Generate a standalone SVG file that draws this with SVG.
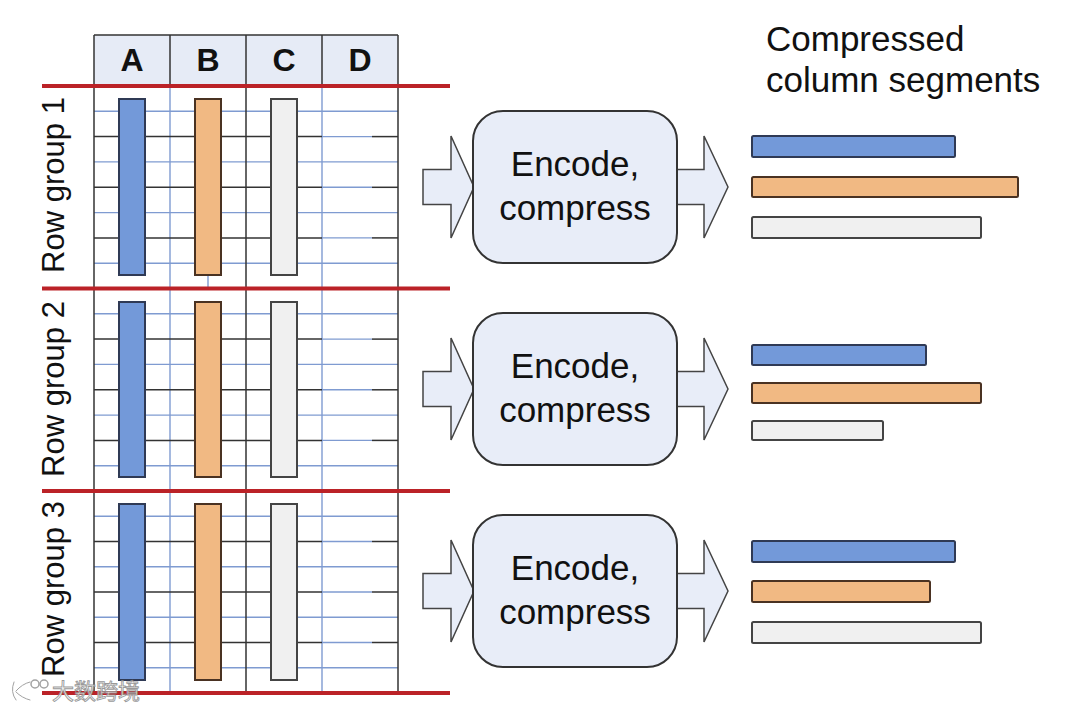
<svg xmlns="http://www.w3.org/2000/svg" width="1080" height="711" viewBox="0 0 1080 711">
<style>
.txt{font-family:"Liberation Sans",Arial,sans-serif;fill:#111}
.hdr{font-size:32px;font-weight:bold;text-anchor:middle}
.rg{font-size:31px;text-anchor:middle}
.box{fill:#e8edf8;stroke:#333;stroke-width:2}
.btxt{font-size:35px;text-anchor:middle}
.arrow{fill:#e8edf8;stroke:#444;stroke-width:1.5;stroke-linejoin:miter}
.gb{stroke:#7f9bd1;stroke-width:1.4}
.gd{stroke:#333;stroke-width:1.5}
.red{stroke:#bb2227;stroke-width:4}
.cb{fill:#7399d9;stroke:#2f3a55;stroke-width:2}
.co{fill:#f1b983;stroke:#4a3222;stroke-width:2}
.cg{fill:#f0f0f0;stroke:#444;stroke-width:2}
</style>
<rect width="1080" height="711" fill="#ffffff"/>
<g id="table">
  <rect x="94" y="35" width="304" height="51" fill="#e6ebf6"/>
  <g class="gb">
    <line x1="94" y1="111.3" x2="398" y2="111.3"/><line x1="94" y1="161.9" x2="398" y2="161.9"/><line x1="94" y1="212.6" x2="398" y2="212.6"/><line x1="94" y1="263.2" x2="398" y2="263.2"/>
    <line x1="94" y1="313.8" x2="398" y2="313.8"/><line x1="94" y1="364.4" x2="398" y2="364.4"/><line x1="94" y1="415.1" x2="398" y2="415.1"/><line x1="94" y1="465.7" x2="398" y2="465.7"/>
    <line x1="94" y1="516.3" x2="398" y2="516.3"/><line x1="94" y1="566.8" x2="398" y2="566.8"/><line x1="94" y1="617.3" x2="398" y2="617.3"/><line x1="94" y1="667.8" x2="398" y2="667.8"/>
    <line x1="322" y1="136.6" x2="372" y2="136.6"/><line x1="322" y1="187.3" x2="372" y2="187.3"/><line x1="322" y1="237.9" x2="372" y2="237.9"/>
    <line x1="322" y1="339.1" x2="372" y2="339.1"/><line x1="322" y1="389.8" x2="372" y2="389.8"/><line x1="322" y1="440.4" x2="372" y2="440.4"/>
    <line x1="322" y1="541.5" x2="372" y2="541.5"/><line x1="322" y1="592" x2="372" y2="592"/><line x1="322" y1="642.5" x2="372" y2="642.5"/>
    <line x1="170" y1="86" x2="170" y2="693"/><line x1="322" y1="86" x2="322" y2="693"/>
    <line x1="208" y1="275" x2="208" y2="289"/>
  </g>
  <g class="gd">
    <line x1="94" y1="136.6" x2="322" y2="136.6"/><line x1="372" y1="136.6" x2="398" y2="136.6"/>
    <line x1="94" y1="187.3" x2="322" y2="187.3"/><line x1="372" y1="187.3" x2="398" y2="187.3"/>
    <line x1="94" y1="237.9" x2="322" y2="237.9"/><line x1="372" y1="237.9" x2="398" y2="237.9"/>
    <line x1="94" y1="339.1" x2="322" y2="339.1"/><line x1="372" y1="339.1" x2="398" y2="339.1"/>
    <line x1="94" y1="389.8" x2="322" y2="389.8"/><line x1="372" y1="389.8" x2="398" y2="389.8"/>
    <line x1="94" y1="440.4" x2="322" y2="440.4"/><line x1="372" y1="440.4" x2="398" y2="440.4"/>
    <line x1="94" y1="541.5" x2="322" y2="541.5"/><line x1="372" y1="541.5" x2="398" y2="541.5"/>
    <line x1="94" y1="592" x2="322" y2="592"/><line x1="372" y1="592" x2="398" y2="592"/>
    <line x1="94" y1="642.5" x2="322" y2="642.5"/><line x1="372" y1="642.5" x2="398" y2="642.5"/>
    <line x1="94" y1="35" x2="94" y2="693"/><line x1="398" y1="35" x2="398" y2="693"/>
    <line x1="246" y1="35" x2="246" y2="693"/>
    <line x1="170" y1="35" x2="170" y2="86"/><line x1="322" y1="35" x2="322" y2="86"/>
    <line x1="94" y1="35" x2="398" y2="35"/>
  </g>
  <text class="txt hdr" x="132" y="71">A</text>
  <text class="txt hdr" x="208" y="71">B</text>
  <text class="txt hdr" x="284" y="71">C</text>
  <text class="txt hdr" x="360" y="71">D</text>
</g>
<g id="rowgroup-1">
  <rect class="cb" x="119" y="99" width="26" height="176"/>
  <rect class="co" x="195" y="99" width="26" height="176"/>
  <rect class="cg" x="271" y="99" width="26" height="176"/>
  <text class="txt rg" transform="translate(64,185) rotate(-90)">Row group 1</text>
</g>
<g id="rowgroup-2">
  <rect class="cb" x="119" y="302" width="26" height="175"/>
  <rect class="co" x="195" y="302" width="26" height="175"/>
  <rect class="cg" x="271" y="302" width="26" height="175"/>
  <text class="txt rg" transform="translate(64,389) rotate(-90)">Row group 2</text>
</g>
<g id="rowgroup-3">
  <rect class="cb" x="119" y="504" width="26" height="176"/>
  <rect class="co" x="195" y="504" width="26" height="176"/>
  <rect class="cg" x="271" y="504" width="26" height="176"/>
  <text class="txt rg" transform="translate(64,589) rotate(-90)">Row group 3</text>
</g>
<g id="group-dividers">
  <line class="red" x1="42" y1="86" x2="450" y2="86"/>
  <line class="red" x1="42" y1="288.5" x2="450" y2="288.5"/>
  <line class="red" x1="42" y1="491" x2="450" y2="491"/>
  <line class="red" x1="42" y1="693" x2="450" y2="693"/>
</g>
<g id="connectors">
  <path class="arrow" d="M423,169.5 H451 V136 L474,187 L451,238 V204.5 H423 Z"/>
  <path class="arrow" d="M670,169.5 H704 V136 L728,187 L704,238 V204.5 H670 Z"/>
  <path class="arrow" d="M423,371.5 H451 V338 L474,389 L451,440 V406.5 H423 Z"/>
  <path class="arrow" d="M670,371.5 H704 V338 L728,389 L704,440 V406.5 H670 Z"/>
  <path class="arrow" d="M423,573.5 H451 V540 L474,591 L451,642 V608.5 H423 Z"/>
  <path class="arrow" d="M670,573.5 H704 V540 L728,591 L704,642 V608.5 H670 Z"/>
</g>
<g id="encode-1">
  <rect class="box" x="473" y="111" width="204" height="152" rx="30"/>
  <text class="txt btxt" x="575" y="176">Encode,</text>
  <text class="txt btxt" x="575" y="220">compress</text>
</g>
<g id="encode-2">
  <rect class="box" x="473" y="313" width="204" height="152" rx="30"/>
  <text class="txt btxt" x="575" y="378">Encode,</text>
  <text class="txt btxt" x="575" y="422">compress</text>
</g>
<g id="encode-3">
  <rect class="box" x="473" y="515" width="204" height="152" rx="30"/>
  <text class="txt btxt" x="575" y="580">Encode,</text>
  <text class="txt btxt" x="575" y="624">compress</text>
</g>
<g id="title">
  <text class="txt" x="766" y="51" font-size="35">Compressed</text>
  <text class="txt" x="766" y="92" font-size="35">column segments</text>
</g>
<g id="segments-1">
  <rect class="cb" x="752" y="136" width="203" height="21" rx="1.5"/>
  <rect class="co" x="752" y="177" width="266" height="20" rx="1.5"/>
  <rect class="cg" x="752" y="217" width="229" height="21" rx="1.5"/>
</g>
<g id="segments-2">
  <rect class="cb" x="752" y="345" width="174" height="20" rx="1.5"/>
  <rect class="co" x="752" y="383" width="229" height="20" rx="1.5"/>
  <rect class="cg" x="752" y="421" width="131" height="19" rx="1.5"/>
</g>
<g id="segments-3">
  <rect class="cb" x="752" y="541" width="203" height="21" rx="1.5"/>
  <rect class="co" x="752" y="581" width="178" height="21" rx="1.5"/>
  <rect class="cg" x="752" y="622" width="229" height="21" rx="1.5"/>
</g>
<g id="watermark" opacity="0.9">
  <path d="M14,682 Q10,692 16,700 M16,691 Q22,684 30,682 M16,692 Q22,698 30,700" fill="none" stroke="#ffffff" stroke-width="4" stroke-linecap="round"/>
  <path d="M14,682 Q10,692 16,700 M16,691 Q22,684 30,682 M16,692 Q22,698 30,700" fill="none" stroke="#999999" stroke-width="1" stroke-linecap="round"/>
  <circle cx="35" cy="684" r="4" fill="#ffffff" stroke="#999" stroke-width="1.5"/>
  <circle cx="44" cy="684" r="4" fill="#ffffff" stroke="#999" stroke-width="1.5"/>
  <text x="52" y="699" font-size="22" font-family="'Noto Sans CJK SC',sans-serif" fill="#ffffff" stroke="#8f8f8f" stroke-width="0.9">大数跨境</text>
</g>
</svg>
